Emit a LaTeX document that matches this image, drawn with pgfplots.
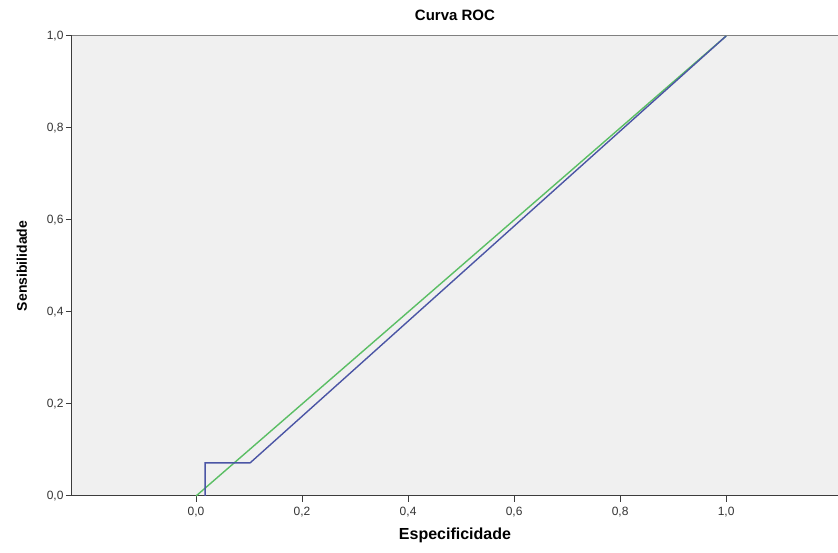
\documentclass[border=0pt]{standalone}
\usepackage{pgfplots}
\pgfplotsset{compat=1.18}
\usepackage{fontspec}
\setmainfont{Liberation Sans}
\definecolor{bgc}{RGB}{240,240,240}
\definecolor{blueroc}{RGB}{75,85,165}
\definecolor{greenroc}{RGB}{90,190,100}
\definecolor{axc}{RGB}{60,60,60}
\begin{document}
\begin{tikzpicture}
\useasboundingbox (-72pt,-57pt) rectangle (766pt,496pt);
\begin{axis}[
  at={(0,0)}, anchor=south west,
  scale only axis, width=766pt, height=460pt,
  xmin=-0.234, xmax=1.211, ymin=0, ymax=1,
  axis background/.style={fill=bgc},
  axis line style={axc, line width=1pt},
  axis x line*=bottom, axis y line*=left,
  xtick={0,0.2,0.4,0.6,0.8,1.0},
  ytick={0,0.2,0.4,0.6,0.8,1.0},
  xticklabels={0{,}0,0{,}2,0{,}4,0{,}6,0{,}8,1{,}0},
  yticklabels={0{,}0,0{,}2,0{,}4,0{,}6,0{,}8,1{,}0},
  tick align=outside, major tick length=6pt,
  tick style={axc, line width=1pt},
  ticklabel style={font=\fontsize{12}{13}\selectfont, text=black!80},
  xticklabel style={yshift=-2pt},
  yticklabel style={xshift=1pt},
  xlabel={\textbf{Especificidade}},
  ylabel={\textbf{Sensibilidade}},
  xlabel style={font=\fontsize{16}{18}\selectfont, yshift=-4pt},
  ylabel style={font=\fontsize{14}{16}\selectfont, yshift=13pt},
  title={\textbf{Curva ROC}},
  title style={font=\fontsize{15}{17}\selectfont, yshift=6pt},
  clip=false,
]
\draw[gray, line width=1pt] (axis cs:-0.234,1) -- (axis cs:1.211,1);
\addplot[greenroc, line width=1.4pt] coordinates {(0,0) (1,1)};
\addplot[blueroc, line width=1.4pt] coordinates {(0.017,0) (0.017,0.072) (0.102,0.072) (1,1)};
\end{axis}
\end{tikzpicture}
\end{document}
